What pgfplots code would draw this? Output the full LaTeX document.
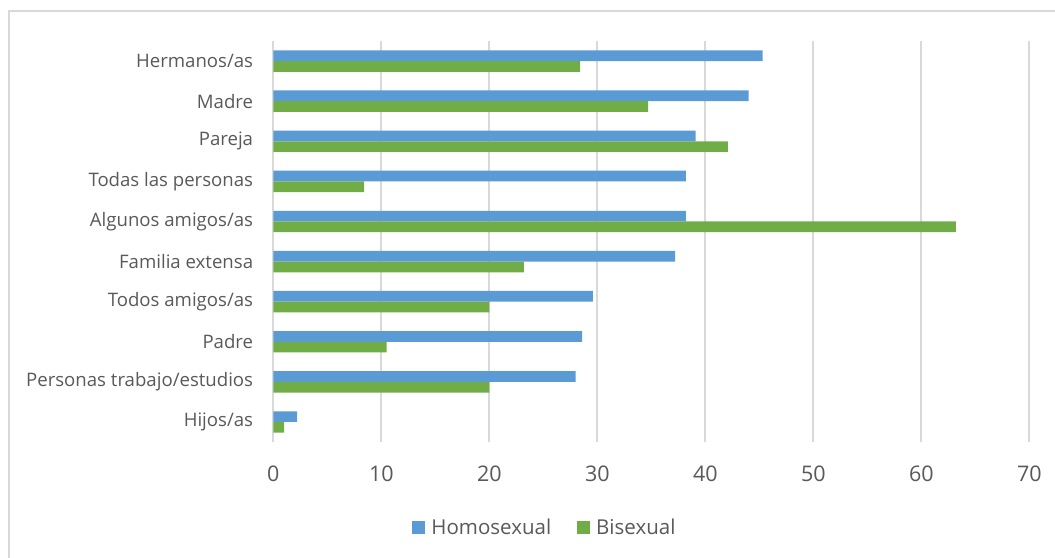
\documentclass[border=0pt]{standalone}
\usepackage{pgfplots}
\pgfplotsset{compat=1.18}
\usepackage{fontspec}
\setmainfont{Open Sans}
\definecolor{homo}{HTML}{5B9BD5}
\definecolor{bi}{HTML}{70AD47}
\definecolor{gridc}{HTML}{D9D9D9}
\definecolor{txt}{HTML}{595959}

% Share of respondents who disclosed to each group (%)
\pgfplotstableread{
y homo bi
0 2.2  1.0
1 28.0 20.0
2 28.6 10.5
3 29.6 20.0
4 37.2 23.2
5 38.2 63.2
6 38.2 8.4
7 39.1 42.1
8 44.0 34.7
9 45.3 28.4
}\datatable

\begin{document}
\begin{tikzpicture}
\path[use as bounding box] (0,0) rectangle (1055bp,558bp);
% chart frame (top and left edges)
\draw[gridc, line width=1.3bp] (9bp,0bp) -- (9bp,547bp) -- (1055bp,547bp);
\begin{axis}[
  at={(273.3bp,116bp)}, anchor=south west,
  scale only axis,
  width=756bp, height=401bp,
  xmin=0, xmax=70, ymin=-0.5, ymax=9.5,
  xtick={0,10,...,70},
  ytick={0,...,9},
  yticklabels={Hijos/as, Personas trabajo/estudios, Padre, Todos amigos/as,
    Familia extensa, Algunos amigos/as, Todas las personas, Pareja, Madre, Hermanos/as},
  /pgf/number format/assume math mode=true,
  axis line style={draw=none},
  major tick length=0pt,
  xmajorgrids,
  grid style={gridc, line width=2bp},
  xticklabel style={font=\fontsize{21.5bp}{24bp}\selectfont, text=txt, inner sep=0pt, anchor=north, yshift=-24bp},
  yticklabel style={font=\fontsize{18.6bp}{22bp}\selectfont, text=txt, inner sep=0pt, anchor=east, xshift=-20bp},
  xbar, bar width=10.7bp,
  legend columns=2,
  legend style={at={(0.358,-0.212)}, anchor=center, draw=none, fill=none,
    font=\fontsize{20.5bp}{24bp}\selectfont, text=txt,
    inner xsep=0pt, inner ysep=0pt,
    nodes={inner sep=0pt, anchor=west},
    /tikz/every odd column/.append style={column sep=6bp},
    /tikz/every even column/.append style={column sep=26bp}},
  legend image code/.code={\fill[#1] (0bp,-6.5bp) rectangle (13bp,6.5bp);},
]
\addplot[draw=none, fill=homo, bar shift=5.35bp] table[x=homo, y=y] {\datatable};
\addlegendentry{Homosexual}
\addplot[draw=none, fill=bi, bar shift=-5.35bp] table[x=bi, y=y] {\datatable};
\addlegendentry{Bisexual}
\end{axis}
\end{tikzpicture}
\end{document}
